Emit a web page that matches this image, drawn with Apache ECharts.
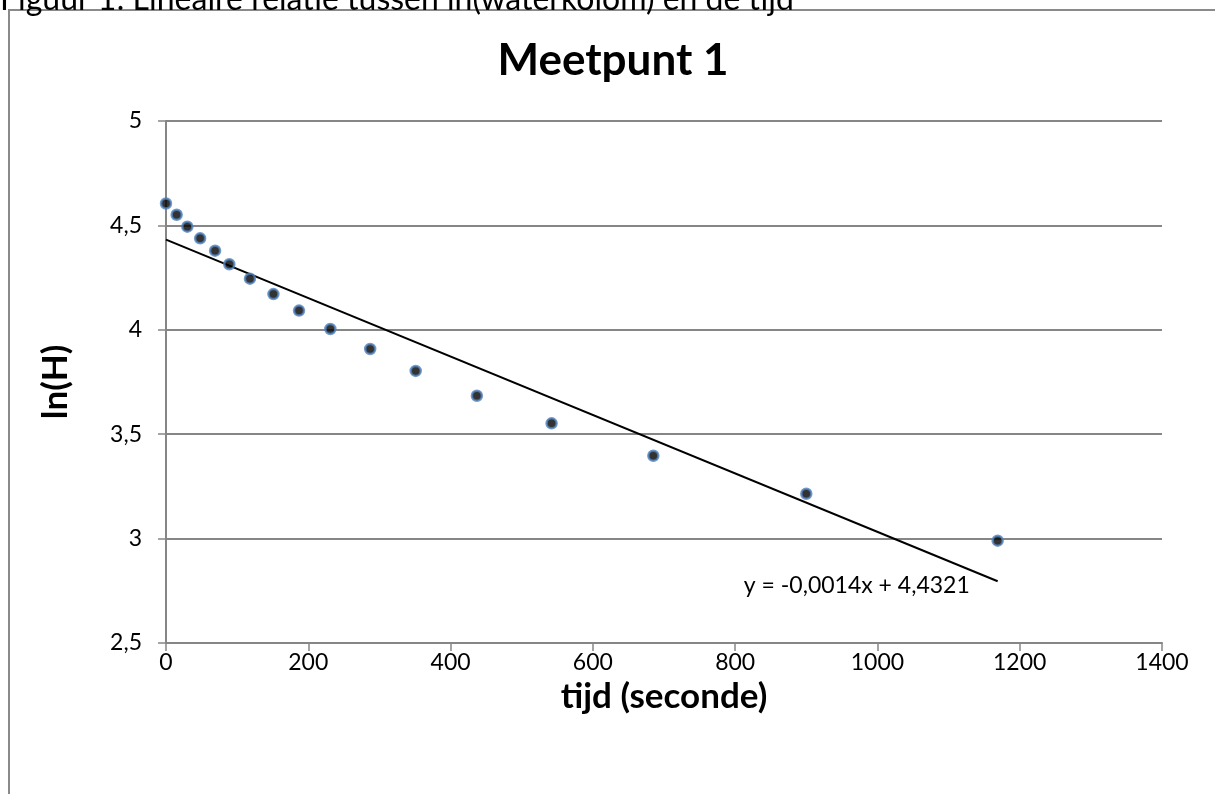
<!DOCTYPE html>
<html>
<head>
<meta charset="utf-8">
<script src="https://cdn.jsdelivr.net/npm/echarts@6/dist/echarts.min.js"></script>
<style>
html,body{margin:0;padding:0;background:#fff;}
#chart{width:1215px;height:794px;}
</style>
</head>
<body>
<div id="chart"></div>
<script>
// Data
const timeSec = [0, 15, 30, 48, 69, 89, 118, 151, 187, 231, 287, 351, 437, 542, 685, 900, 1169];
const lnH = [4.605, 4.551, 4.494, 4.438, 4.379, 4.314, 4.245, 4.171, 4.092, 4.004, 3.908, 3.803, 3.684, 3.552, 3.397, 3.215, 2.99];
const trendX = [0, 1169];
const trendY = [4.4321, 2.7955];
const equationText = 'y = -0,0014x + 4,4321';
const xTicks = [0, 200, 400, 600, 800, 1000, 1200, 1400];
const yTicks = [2.5, 3, 3.5, 4, 4.5, 5];
const captionText = 'Figuur 1: Lineaire relatie tussen ln(waterkolom) en de tijd';
const titleText = 'Meetpunt 1';
const xName = 'tijd (seconde)';
const yName = 'ln(H)';

const FONT = 'Lato';
const chart = echarts.init(document.getElementById('chart'));
const fmtY = v => String(v).replace('.', ',');
const fmtX = v => String(v);

const option = {
  backgroundColor: '#fff',
  animation: false,
  grid: {left: 166, right: 53, top: 121, bottom: 151},
  graphic: [
    {type: 'rect', shape: {x: 9, y: 10, width: 1400, height: 1000},
     style: {fill: 'none', stroke: '#8a8a8a', lineWidth: 2}, silent: true},
    {type: 'text', left: 0, top: -16,
     style: {text: captionText, font: '400 32px ' + FONT, fill: '#000'}},
    {type: 'text', x: 613, y: 61,
     style: {text: titleText, font: '700 44px ' + FONT, fill: '#000', align: 'center', verticalAlign: 'middle'}}
  ],
  xAxis: {
    type: 'value', min: xTicks[0], max: xTicks[xTicks.length - 1], interval: 200,
    name: xName, nameLocation: 'middle', nameGap: 29,
    nameTextStyle: {fontFamily: FONT, fontWeight: 'bold', fontSize: 35, color: '#000'},
    axisLine: {show: true, lineStyle: {color: '#868686', width: 2}},
    axisTick: {show: true, length: 8, lineStyle: {color: '#868686', width: 1.5}},
    axisLabel: {fontFamily: FONT, fontSize: 23, color: '#000', margin: 8, formatter: fmtX},
    splitLine: {show: false}
  },
  yAxis: {
    type: 'value', min: yTicks[0], max: yTicks[yTicks.length - 1], interval: 0.5,
    name: yName, nameLocation: 'middle', nameGap: 93, nameRotate: 90,
    nameTextStyle: {fontFamily: FONT, fontWeight: 'bold', fontSize: 35, color: '#000'},
    axisLine: {show: true, lineStyle: {color: '#868686', width: 2}},
    axisTick: {show: true, length: 8, lineStyle: {color: '#868686', width: 1.5}},
    axisLabel: {fontFamily: FONT, fontSize: 23, color: '#000', margin: 24, formatter: fmtY},
    splitLine: {show: true, lineStyle: {color: '#868686', width: 2}}
  },
  series: [
    {
      type: 'line', data: trendX.map((x, i) => [x, trendY[i]]),
      showSymbol: false, symbol: 'none',
      lineStyle: {color: '#000', width: 2}, z: 3,
      markPoint: {
        symbol: 'circle', symbolSize: 0,
        data: [{coord: [971, 2.773], value: equationText}],
        label: {show: true, position: 'inside', formatter: equationText,
                fontFamily: FONT, fontSize: 23, color: '#000'}
      }
    },
    {
      type: 'scatter', data: timeSec.map((t, i) => [t, lnH[i]]),
      symbol: 'circle', symbolSize: 10,
      itemStyle: {color: '#000', borderColor: '#4f81bd', borderWidth: 2.5}, z: 4
    }
  ]
};
chart.setOption(option);
</script>
</body>
</html>
